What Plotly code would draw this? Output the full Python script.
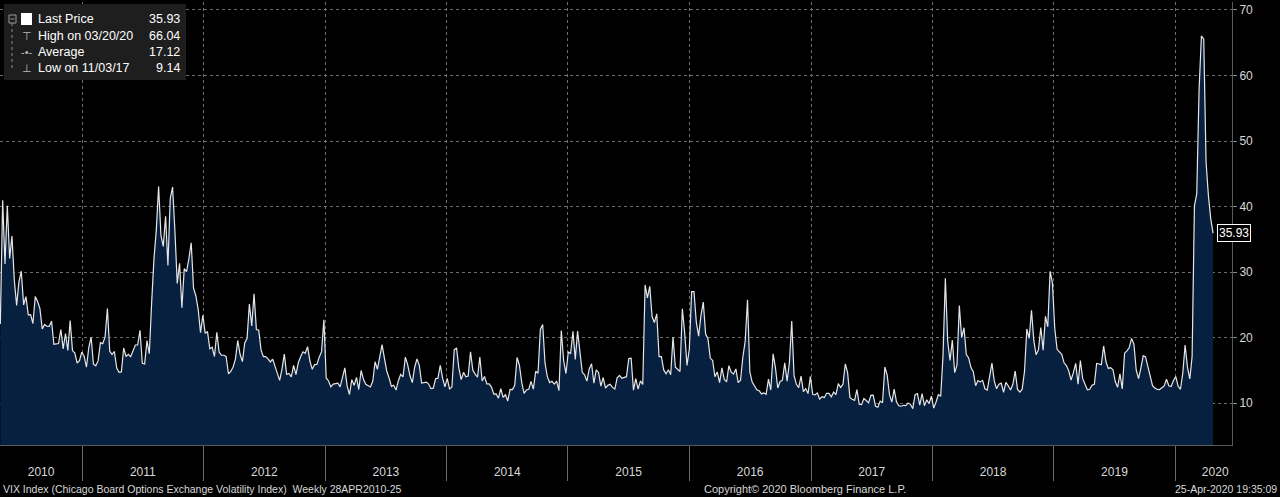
import plotly.graph_objects as go
import pandas as pd

# ---------------- data (weekly VIX closes) ----------------
vix_2010 = [22.05, 40.95, 31.24, 40.10, 32.07, 35.48, 28.79, 24.88, 28.53, 30.12,
            24.98, 26.25, 23.47, 23.50, 22.14, 26.24, 25.49, 24.45, 21.31, 21.99,
            21.72, 21.71, 22.50, 18.96, 19.03, 19.08, 21.20, 18.26, 20.61, 18.04,
            22.58, 18.01, 17.61, 16.11, 16.47, 17.75]
vix_2011 = [17.14, 15.46, 18.47, 20.04, 15.93, 15.69, 16.43, 19.22, 19.06, 20.10,
            24.44, 17.91, 17.40, 17.87, 15.32, 14.69, 14.75, 18.40, 17.07, 17.43,
            17.07, 17.95, 18.86, 18.86, 21.10, 16.06, 15.95, 19.53, 17.52, 25.25,
            32.00, 36.36, 43.05, 35.59, 33.92, 38.52, 30.98, 41.25, 42.96, 36.27,
            28.24, 31.32, 24.53, 30.50, 30.04, 32.00, 34.47, 27.52, 26.38, 24.29,
            20.73, 23.40]
vix_2012 = [20.63, 20.91, 18.28, 18.53, 17.10, 20.79, 17.78, 17.31, 17.29, 17.11,
            14.47, 14.82, 15.50, 16.70, 19.55, 17.44, 16.32, 19.16, 19.89, 25.10,
            21.76, 26.66, 21.23, 21.11, 18.11, 17.08, 17.10, 16.74, 16.27, 16.70,
            15.64, 14.74, 13.45, 15.18, 17.47, 14.38, 14.51, 13.98, 15.73, 14.33,
            16.14, 17.06, 17.81, 17.59, 18.61, 16.41, 15.14, 15.87, 15.90, 17.00,
            17.84, 22.72]
vix_2013 = [13.83, 13.36, 12.46, 12.89, 12.90, 13.02, 12.46, 14.17, 15.36, 12.59,
            11.30, 13.57, 12.70, 13.92, 12.06, 14.97, 13.61, 12.85, 12.59, 12.45,
            13.32, 16.30, 15.14, 17.15, 18.90, 16.86, 14.89, 13.84, 12.54, 12.72,
            11.98, 13.41, 14.37, 13.98, 17.01, 15.85, 14.16, 13.12, 15.46, 16.74,
            15.72, 13.04, 13.09, 13.19, 12.90, 12.19, 12.26, 13.70, 13.79, 15.76,
            13.79, 12.46]
vix_2014 = [13.76, 12.14, 12.44, 18.14, 18.41, 15.29, 13.57, 14.68, 14.00, 14.11,
            17.82, 15.00, 14.41, 13.96, 17.03, 13.36, 14.06, 12.91, 12.92, 12.44,
            11.36, 11.40, 10.73, 12.18, 10.85, 11.26, 10.32, 12.08, 12.06, 12.69,
            16.95, 15.77, 13.15, 11.47, 11.98, 12.09, 13.31, 12.11, 14.85, 14.55,
            21.24, 21.99, 16.11, 14.03, 13.12, 13.31, 12.90, 13.33, 11.89, 21.08,
            16.49, 14.50]
vix_2015 = [17.79, 17.55, 20.95, 16.66, 20.97, 17.29, 14.69, 14.30, 13.34, 15.20,
            16.00, 13.02, 15.07, 14.67, 12.58, 13.89, 12.29, 12.70, 12.86, 12.38,
            12.13, 13.84, 14.21, 13.78, 13.96, 14.02, 16.79, 16.83, 11.95, 13.74,
            12.12, 13.39, 12.83, 28.03, 26.05, 27.80, 23.20, 22.28, 23.62, 17.08,
            17.08, 15.05, 14.46, 15.07, 14.33, 20.08, 15.47, 15.12, 14.81, 24.39,
            20.70, 15.74, 18.21]
vix_2016 = [27.01, 27.02, 22.34, 20.20, 23.38, 25.40, 20.53, 19.81, 16.86, 16.50,
            14.02, 14.74, 13.10, 15.36, 13.62, 13.22, 15.70, 14.72, 14.41, 15.20,
            13.12, 13.47, 17.03, 19.41, 25.76, 14.77, 13.20, 12.67, 12.02, 11.87,
            11.39, 11.55, 11.34, 13.65, 11.98, 17.50, 15.37, 12.29, 13.29, 13.48,
            16.12, 13.34, 16.19, 22.51, 14.17, 12.85, 12.34, 14.12, 11.75, 12.20,
            11.44, 14.04]
vix_2017 = [11.32, 11.23, 11.54, 10.58, 10.97, 10.85, 11.49, 11.47, 10.96, 11.66,
            11.28, 12.96, 12.37, 12.87, 15.96, 14.63, 10.82, 10.57, 10.40, 12.04,
            9.81, 9.75, 10.70, 10.38, 10.02, 11.18, 11.19, 9.51, 9.36, 10.29,
            10.03, 15.51, 14.26, 11.28, 10.13, 12.12, 10.17, 9.59, 9.51, 9.65,
            9.61, 10.01, 9.80, 9.14, 11.29, 11.43, 9.67, 11.43, 9.58, 10.49,
            9.90, 11.04]
vix_2018 = [9.22, 10.16, 11.27, 11.08, 17.31, 29.06, 19.46, 16.49, 19.59, 14.64,
            15.80, 24.87, 19.97, 21.49, 17.41, 16.88, 15.41, 14.77, 12.65, 13.42,
            13.22, 13.46, 12.18, 11.98, 13.77, 16.09, 13.37, 12.18, 12.86, 13.03,
            11.64, 13.16, 12.64, 11.99, 12.86, 14.88, 12.07, 11.68, 12.12, 14.82,
            21.31, 19.89, 24.16, 19.51, 17.36, 18.14, 21.52, 18.07, 23.23, 21.63,
            30.11, 28.34]
vix_2019 = [21.38, 18.19, 17.80, 17.42, 16.14, 15.72, 14.91, 13.51, 14.63, 16.05,
            12.88, 16.48, 13.71, 12.82, 12.01, 12.09, 12.73, 12.87, 16.04, 15.96,
            15.85, 18.71, 16.30, 15.28, 15.40, 15.08, 13.28, 12.39, 14.45, 12.16,
            17.61, 17.97, 18.47, 19.87, 18.98, 15.00, 13.74, 15.32, 17.22, 17.04,
            15.58, 14.25, 12.65, 12.30, 12.07, 12.05, 12.34, 12.62, 13.62, 12.63,
            12.51, 13.43]
vix_2020 = [14.02, 12.56, 12.10, 14.56, 18.84, 15.47, 13.68, 17.08, 40.11, 41.94,
            57.83, 66.04, 65.54, 46.80, 41.67, 38.15, 35.93]

first_week = "2010-04-30"
year_labels = ["2010", "2011", "2012", "2013", "2014", "2015", "2016",
               "2017", "2018", "2019", "2020"]
y_ticks = [10, 20, 30, 40, 50, 60, 70]

legend_labels = ["Last Price", "High on 03/20/20", "Average", "Low on 11/03/17"]
legend_values = ["35.93", "66.04", "17.12", "9.14"]
last_price_text = "35.93"

footer_left = "VIX Index (Chicago Board Options Exchange Volatility Index)  Weekly 28APR2010-25"
footer_mid = "Copyright\u00a9 2020 Bloomberg Finance L.P."
footer_right = "25-Apr-2020 19:35:09"

# ---------------- build ----------------
values = (vix_2010 + vix_2011 + vix_2012 + vix_2013 + vix_2014 + vix_2015 +
          vix_2016 + vix_2017 + vix_2018 + vix_2019 + vix_2020)
dates = pd.date_range(start=first_week, periods=len(values), freq="W-FRI")

W, H = 1280, 497
ML, MR, MT, MB = 0, 48, 2, 52
PW, PH = W - ML - MR, H - MT - MB

x0 = pd.Timestamp("2010-04-29")
x1 = x0 + pd.Timedelta(days=3705)
y0, y1 = 3.59, 71.22

def px(xp):
    return (xp - ML) / PW

def py(yp):
    return (H - MB - yp) / PH

year_starts = [pd.Timestamp(f"{y}-01-01") for y in year_labels[1:]]
label_pos = []
for i, y in enumerate(year_labels):
    a = max(pd.Timestamp(f"{y}-01-01"), x0)
    b = min(pd.Timestamp(f"{int(y)+1}-01-01"), x1 + pd.Timedelta(days=70))
    label_pos.append(a + (b - a) / 2)

FONT = "Liberation Sans, Arial, sans-serif"
TXT = "#d8d8d8"

fig = go.Figure()
fig.add_trace(go.Scatter(
    x=dates, y=values, mode="lines",
    line=dict(color="#e6e6e6", width=1.2),
    fill="tozeroy", fillcolor="#07203f",
    hoverinfo="skip", showlegend=False,
))

fig.update_layout(
    width=W, height=H,
    margin=dict(l=ML, r=MR, t=MT, b=MB),
    paper_bgcolor="#000000", plot_bgcolor="#000000",
    font=dict(family=FONT, size=12, color=TXT),
    showlegend=False,
    xaxis=dict(
        range=[x0, x1], showgrid=False, zeroline=False,
        tickmode="array", tickvals=label_pos, ticktext=year_labels,
        ticks="outside", ticklen=16, tickcolor="rgba(0,0,0,0)",
        tickfont=dict(size=12, color=TXT),
        showline=True, linecolor="#5a5a5a", linewidth=1,
        minor=dict(tickmode="array", tickvals=year_starts, ticks="outside",
                   ticklen=35, tickcolor="#6a6a6a", tickwidth=1,
                   showgrid=True, gridcolor="#6e6e6e", griddash="3px,3px",
                   gridwidth=1),
    ),
    yaxis=dict(
        range=[y0, y1], side="right", tickvals=y_ticks,
        showgrid=True, gridcolor="#6e6e6e", griddash="3px,3px", gridwidth=1,
        zeroline=False, ticks="outside", ticklen=4, tickcolor="#8a8a8a",
        showline=True, linecolor="#5a5a5a",
        tickfont=dict(size=12, color=TXT),
    ),
)

shapes = []
annots = []

# legend box
shapes.append(dict(type="rect", xref="paper", yref="paper",
                   x0=px(4), x1=px(186), y0=py(80), y1=py(4),
                   fillcolor="#1e1e1e", line=dict(width=0), layer="above"))
# tree dotted line
shapes.append(dict(type="line", xref="paper", yref="paper",
                   x0=px(12), x1=px(12), y0=py(23), y1=py(68),
                   line=dict(color="#8a8a8a", width=1, dash="dot"), layer="above"))
# box-minus icon
shapes.append(dict(type="rect", xref="paper", yref="paper",
                   x0=px(9), x1=px(16), y0=py(23), y1=py(15),
                   line=dict(color="#9a9a9a", width=1), fillcolor="#1e1e1e", layer="above"))
shapes.append(dict(type="line", xref="paper", yref="paper",
                   x0=px(10.5), x1=px(14.5), y0=py(19), y1=py(19),
                   line=dict(color="#9a9a9a", width=1), layer="above"))
# white square for last price
shapes.append(dict(type="rect", xref="paper", yref="paper",
                   x0=px(21), x1=px(32), y0=py(25), y1=py(13),
                   fillcolor="#ffffff", line=dict(width=0), layer="above"))
row_y = [19, 36, 52, 68]
icons = ["", "\u22a4", "-\u2022-", "\u22a5"]
for i, (lab, val) in enumerate(zip(legend_labels, legend_values)):
    annots.append(dict(xref="paper", yref="paper", x=px(36), y=py(row_y[i]),
                       text=lab, showarrow=False, xanchor="left", yanchor="middle",
                       font=dict(size=12.5, color="#ffffff")))
    annots.append(dict(xref="paper", yref="paper", x=px(182), y=py(row_y[i]),
                       text=val, showarrow=False, xanchor="right", yanchor="middle",
                       font=dict(size=12.5, color="#ffffff")))
    if icons[i]:
        annots.append(dict(xref="paper", yref="paper", x=px(27), y=py(row_y[i]),
                           text=icons[i], showarrow=False, xanchor="center",
                           yanchor="middle", font=dict(size=11, color="#bbbbbb")))

# last price label
annots.append(dict(x=dates[-1], y=values[-1], xref="x", yref="y",
                   text=last_price_text, showarrow=False, xanchor="left",
                   yanchor="middle", xshift=4,
                   bgcolor="#000000", bordercolor="#ffffff", borderwidth=1,
                   borderpad=1, font=dict(size=12, color="#ffffff")))

# footer
annots.append(dict(xref="paper", yref="paper", x=px(1), y=py(489), text=footer_left,
                   showarrow=False, xanchor="left", yanchor="middle",
                   font=dict(size=10.5, color=TXT)))
annots.append(dict(xref="paper", yref="paper", x=px(805), y=py(489), text=footer_mid,
                   showarrow=False, xanchor="center", yanchor="middle",
                   font=dict(size=11, color=TXT)))
annots.append(dict(xref="paper", yref="paper", x=px(1279), y=py(489), text=footer_right,
                   showarrow=False, xanchor="right", yanchor="middle",
                   font=dict(size=10.5, color=TXT)))

fig.update_layout(shapes=shapes, annotations=annots)
fig.write_html("out.html")
